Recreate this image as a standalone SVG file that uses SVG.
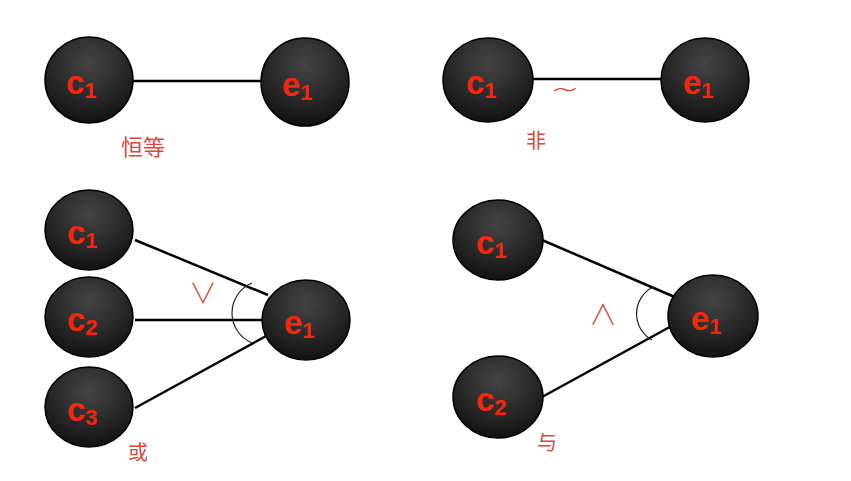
<svg xmlns="http://www.w3.org/2000/svg" width="851" height="481" viewBox="0 0 851 481">
<defs>
<radialGradient id="g" cx="0.5" cy="0.3" r="0.7">
<stop offset="0" stop-color="#444"/>
<stop offset="0.55" stop-color="#2a2a2a"/>
<stop offset="1" stop-color="#121212"/>
</radialGradient>
<style>
.n{fill:url(#g);stroke:#000;stroke-width:1.5}
.t{font-family:"Liberation Sans",Arial,sans-serif;font-size:33px;font-weight:bold;fill:#f5260e}
.s{font-size:22px}
.l{stroke:#000;stroke-width:2.5;fill:none}
.a{stroke:#222;stroke-width:1.2;fill:none}
.lab{font-family:"Liberation Sans","Noto Sans CJK SC",sans-serif;fill:#d9473c}
.sym{font-family:"Noto Sans CJK SC",sans-serif;fill:#d9473c;font-weight:300}
.tl{font-family:"DejaVu Sans",sans-serif;fill:#d9473c;font-weight:200}
</style>
</defs>
<rect width="851" height="481" fill="#fff"/>
<g id="connectors">
<line class="l" x1="133" y1="81" x2="261" y2="81"/>
<line class="l" x1="533" y1="79" x2="661" y2="79"/>
<line class="l" x1="135" y1="240" x2="268" y2="295"/>
<line class="l" x1="135" y1="320" x2="262" y2="320"/>
<line class="l" x1="135" y1="408" x2="268" y2="335"/>
<path class="a" d="M252,283 A32.5,32.5 0 0 0 252,343"/>
<line class="l" x1="542" y1="240" x2="677" y2="298"/>
<line class="l" x1="542" y1="397" x2="677" y2="323"/>
<path class="a" d="M653,287 A30,30 0 0 0 652,340"/>
</g>
<g id="tl-c1"><ellipse class="n" cx="89" cy="80" rx="44" ry="43"/><text class="t" x="66" y="94">c<tspan class="s" dy="4">1</tspan></text></g>
<g id="tl-e1"><ellipse class="n" cx="305" cy="82" rx="44" ry="44"/><text class="t" x="282" y="96">e<tspan class="s" dy="4">1</tspan></text></g>
<text class="lab" x="143" y="155" font-size="22" text-anchor="middle">恒等</text>
<g id="tr-c1"><ellipse class="n" cx="488" cy="80" rx="45" ry="42"/><text class="t" x="466" y="94">c<tspan class="s" dy="4">1</tspan></text></g>
<g id="tr-e1"><ellipse class="n" cx="705" cy="80" rx="44" ry="42"/><text class="t" x="683" y="94">e<tspan class="s" dy="4">1</tspan></text></g>
<text class="tl" x="565" y="100" font-size="34" text-anchor="middle">~</text>
<text class="lab" x="536" y="148" font-size="20" text-anchor="middle">非</text>
<g id="bl-c1"><ellipse class="n" cx="89" cy="230" rx="44" ry="40"/><text class="t" x="67" y="244">c<tspan class="s" dy="4">1</tspan></text></g>
<g id="bl-c2"><ellipse class="n" cx="89" cy="317" rx="44" ry="40"/><text class="t" x="67" y="331">c<tspan class="s" dy="4">2</tspan></text></g>
<g id="bl-c3"><ellipse class="n" cx="89" cy="407" rx="44" ry="40"/><text class="t" x="67" y="421">c<tspan class="s" dy="4">3</tspan></text></g>
<g id="bl-e1"><ellipse class="n" cx="306" cy="320" rx="44" ry="40"/><text class="t" x="284" y="334">e<tspan class="s" dy="4">1</tspan></text></g>
<text class="sym" x="203" y="304" font-size="28" text-anchor="middle">∨</text>
<text class="lab" x="138" y="460" font-size="20" text-anchor="middle">或</text>
<g id="br-c1"><ellipse class="n" cx="498" cy="240" rx="45" ry="40"/><text class="t" x="476" y="254">c<tspan class="s" dy="4">1</tspan></text></g>
<g id="br-c2"><ellipse class="n" cx="498" cy="397" rx="45" ry="41"/><text class="t" x="476" y="411">c<tspan class="s" dy="4">2</tspan></text></g>
<g id="br-e1"><ellipse class="n" cx="713" cy="316" rx="45" ry="41"/><text class="t" x="691" y="330">e<tspan class="s" dy="4">1</tspan></text></g>
<text class="sym" x="603" y="325" font-size="28" text-anchor="middle">∧</text>
<text class="lab" x="547" y="450" font-size="20" text-anchor="middle">与</text>
</svg>
